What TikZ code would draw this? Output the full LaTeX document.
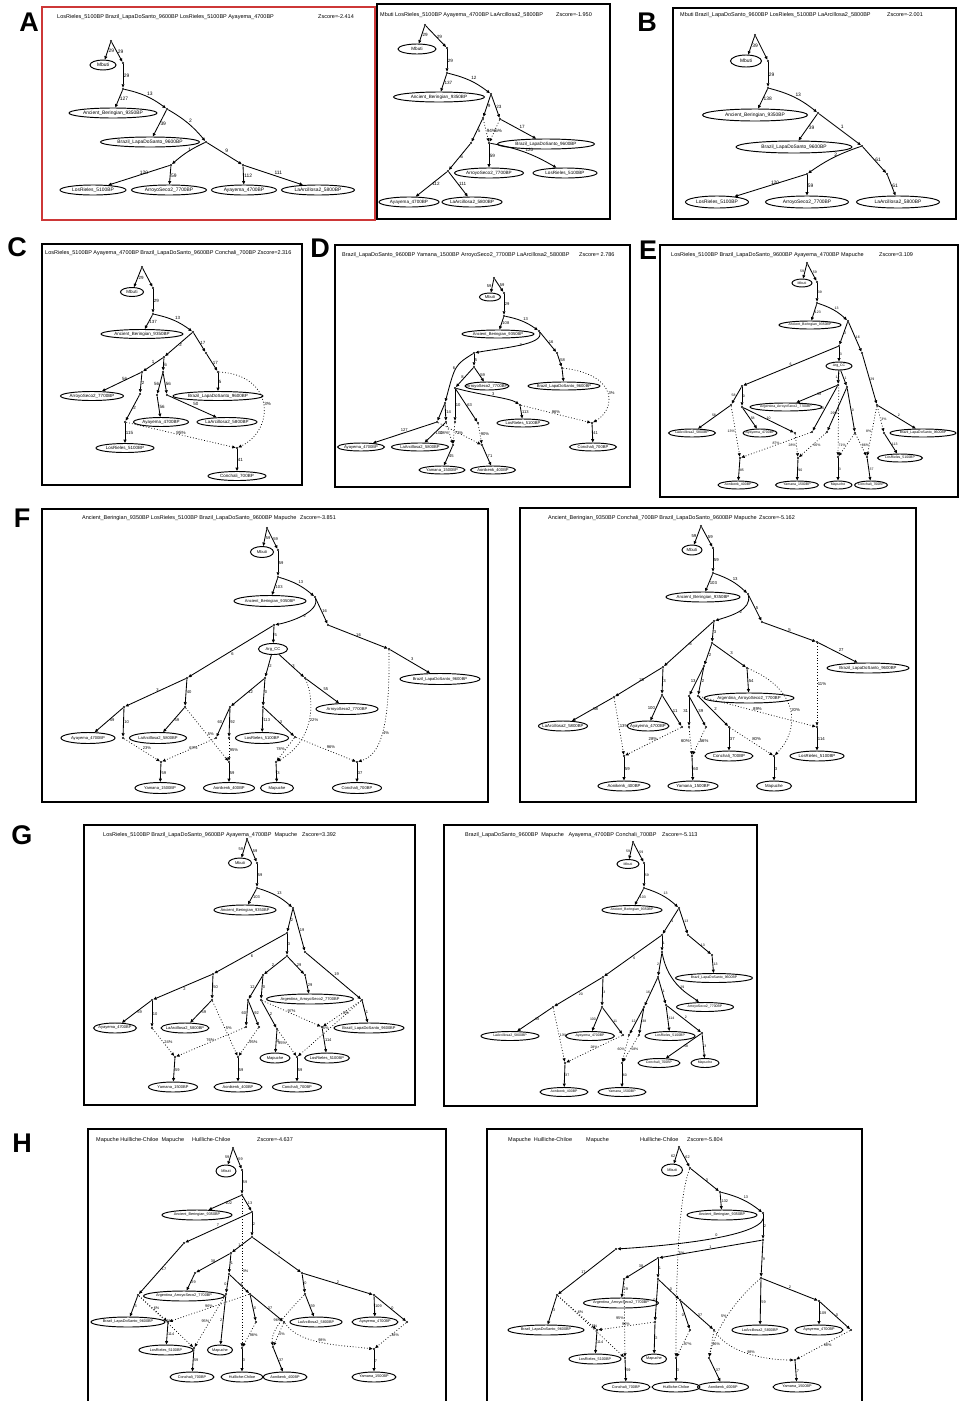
\documentclass[tikz,border=0pt]{standalone}
\usepackage{fontspec}
\setmainfont{Liberation Sans}
\usetikzlibrary{arrows.meta,shapes.geometric}
\definecolor{panelred}{RGB}{205,55,55}
\tikzset{
  pop/.style={ellipse,draw,line width=.95pt,inner xsep=-.6em,inner ysep=0pt},
  dot/.style={circle,fill,inner sep=0pt,minimum size=2.3pt},
  edge/.style={line width=.85pt,-{Triangle[length=3.4pt,width=2.9pt]}},
  mix/.style={edge,dotted,line width=.7pt},
  lab/.style={inner sep=.5pt},
  ttl/.style={anchor=west,inner sep=0pt,font=\fontsize{5.5}{5.5}\selectfont},
  frame/.style={line width=1.2pt},
  letter/.style={font=\fontsize{27}{27}\selectfont\bfseries},
  sz/.style 2 args={pop/.append style={minimum height=#2,font=\fontsize{#1}{#1}\selectfont},lab/.append style={font=\fontsize{#1}{#1}\selectfont}}
}
\begin{document}
\begin{tikzpicture}[x=1pt,y=-1pt]
\useasboundingbox (0,0) rectangle (960,1401);
\fill[white] (0,0) rectangle (960,1401);

\draw[frame,panelred] (42,7) rectangle (375,220);
\node[letter] (letA) at (29,22) {A};
\begin{scope}[sz={4.9}{10}]
\node[ttl] (tiA) at (57,17) {LosRieles\_5100BP Brazil\_LapaDoSanto\_9600BP LosRieles\_5100BP Ayayema\_4700BP};
\node[ttl] (zsA) at (318,17) {Zscore=-2.414};
\node[dot] (a0) at (111,41) {};
\node[pop,minimum width=26] (aMb) at (103,65) {Mbuti};
\node[dot] (a1) at (123,63) {};
\node[dot] (a2) at (123,89) {};
\node[pop,minimum width=88] (aAB) at (113,113) {Ancient\_Beringian\_9350BP};
\node[dot] (a3) at (167,109) {};
\node[pop,minimum width=99] (aBr) at (150,142) {Brazil\_LapaDoSanto\_9600BP};
\node[dot] (a4) at (206,142) {};
\node[dot] (a5) at (171,165) {};
\node[dot] (a6) at (243,165) {};
\node[pop,minimum width=66] (aLR) at (93,190) {LosRieles\_5100BP};
\node[pop,minimum width=75] (aAS) at (169,190) {ArroyoSeco2\_7700BP};
\node[pop,minimum width=65] (aAy) at (244,190) {Ayayema\_4700BP};
\node[pop,minimum width=73] (aLA) at (318,190) {LaArcillosa2\_5800BP};
\draw[edge] (a0) -- node[lab,right]{29} (aMb);
\draw[edge] (a0) -- node[lab,right]{29} (a1);
\draw[edge] (a1) -- node[lab,right]{29} (a2);
\draw[edge] (a2) -- node[lab,right]{127} (aAB);
\draw[edge] (a2) to[bend left=12] node[lab,above right]{13} (a3);
\draw[edge] (a3) -- node[lab,right]{39} (aBr);
\draw[edge] (a3) to[bend left=10] node[lab,above right]{2} (a4);
\draw[edge] (a4) to[bend right=8] node[lab,above right]{1} (a5);
\draw[edge] (a4) -- node[lab,above right]{9} (a6);
\draw[edge] (a5) -- node[lab,above right]{120} (aLR);
\draw[edge] (a5) -- node[lab,right]{59} (aAS);
\draw[edge] (a6) -- node[lab,right]{112} (aAy);
\draw[edge] (a6) -- node[lab,above right]{111} (aLA);
\end{scope}

\draw[frame] (377,4) rectangle (610,219);
\begin{scope}[sz={4.6}{10}]
\node[ttl] (tiA2) at (380,15) {Mbuti LosRieles\_5100BP Ayayema\_4700BP LaArcillosa2\_5800BP};
\node[ttl] (zsA2) at (556,15) {Zscore=-1.950};
\node[dot] (b0) at (425,25) {};
\node[pop,minimum width=38] (bMb) at (417,49) {Mbuti};
\node[dot] (b1) at (447,48) {};
\node[dot] (b2) at (447,73) {};
\node[pop,minimum width=91] (bAB) at (439,97) {Ancient\_Beringian\_9350BP};
\node[dot] (b3) at (491,94) {};
\node[dot] (b4) at (483,118) {};
\node[dot] (b7) at (500,119) {};
\node[dot] (b5) at (471,143) {};
\node[pop,minimum width=97] (bBr) at (546,144) {Brazil\_LapaDoSanto\_9600BP};
\node[dot] (b8) at (489,143) {};
\node[pop,minimum width=69] (bAS) at (489,173) {ArroyoSeco2\_7700BP};
\node[pop,minimum width=64] (bLR) at (565,173) {LosRieles\_5100BP};
\node[dot] (b6) at (448,171) {};
\node[pop,minimum width=60] (bAy) at (409,202) {Ayayema\_4700BP};
\node[pop,minimum width=60] (bLA) at (472,202) {LaArcillosa2\_5800BP};
\draw[edge] (b0) -- node[lab,right]{29} (bMb);
\draw[edge] (b0) -- node[lab,right]{29} (b1);
\draw[edge] (b1) -- node[lab,right]{29} (b2);
\draw[edge] (b2) -- node[lab,right]{137} (bAB);
\draw[edge] (b2) to[bend left=12] node[lab,above right]{12} (b3);
\draw[edge] (b3) -- node[lab,right]{9} (b4);
\draw[edge] (b3) -- node[lab,right]{23} (b7);
\draw[edge] (b4) -- node[lab,right]{5} (b5);
\draw[mix] (b4) -- node[lab,right]{94\%} (b8);
\draw[mix] (b7) -- node[lab,right]{6\%} (b8);
\draw[edge] (b7) -- node[lab,above right]{17} (bBr);
\draw[edge] (b8) -- node[lab,right]{59} (bAS);
\draw[edge] (b8) to[bend left=10] node[lab,above right]{120} (bLR);
\draw[edge] (b5) -- node[lab,right]{6} (b6);
\draw[edge] (b6) -- node[lab,right]{112} (bAy);
\draw[edge] (b6) -- node[lab,right]{111} (bLA);
\end{scope}

\draw[frame] (673,8) rectangle (956,219);
\node[letter] (letB) at (647,22) {B};
\begin{scope}[sz={4.9}{12}]
\node[ttl] (tiB) at (680,15) {Mbuti Brazil\_LapaDoSanto\_9600BP LosRieles\_5100BP LaArcillosa2\_5800BP};
\node[ttl] (zsB) at (887,15) {Zscore=-2.001};
\node[dot] (c0) at (755,35) {};
\node[pop,minimum width=31] (cMb) at (746,61) {Mbuti};
\node[dot] (c1) at (768,61) {};
\node[dot] (c2) at (768,88) {};
\node[pop,minimum width=105] (cAB) at (755,115) {Ancient\_Beringian\_9350BP};
\node[dot] (c3) at (818,113) {};
\node[pop,minimum width=116] (cBr) at (794,147) {Brazil\_LapaDoSanto\_9600BP};
\node[dot] (c4) at (862,146) {};
\node[dot] (c5) at (807,174) {};
\node[dot] (c6) at (887,174) {};
\node[pop,minimum width=63] (cLR) at (717,202) {LosRieles\_5100BP};
\node[pop,minimum width=83] (cAS) at (807,202) {ArroyoSeco2\_7700BP};
\node[pop,minimum width=83] (cLA) at (898,202) {LaArcillosa2\_5800BP};
\draw[edge] (c0) -- node[lab,right]{39} (cMb);
\draw[edge] (c0) -- (c1);
\draw[edge] (c1) -- node[lab,right]{29} (c2);
\draw[edge] (c2) -- node[lab,right]{138} (cAB);
\draw[edge] (c2) to[bend left=12] node[lab,above right]{13} (c3);
\draw[edge] (c3) -- node[lab,right]{39} (cBr);
\draw[edge] (c3) -- node[lab,above right]{1} (c4);
\draw[edge] (c4) to[bend right=8] node[lab,above right]{2} (c5);
\draw[edge] (c4) -- node[lab,right]{61} (c6);
\draw[edge] (c5) -- node[lab,above right]{120} (cLR);
\draw[edge] (c5) -- node[lab,right]{59} (cAS);
\draw[edge] (c6) -- node[lab,right]{61} (cLA);
\end{scope}

\draw[frame] (42,244) rectangle (302,485);
\node[letter] (letC) at (17,247) {C};
\begin{scope}[sz={4.5}{9}]
\node[ttl] (tiC) at (45,253) {LosRieles\_5100BP Ayayema\_4700BP Brazil\_LapaDoSanto\_9600BP Conchali\_700BP Zscore=2.316};
\node[dot] (d0) at (142,267) {};
\node[pop,minimum width=23] (dMb) at (132,292) {Mbuti};
\node[dot] (d1) at (153,288) {};
\node[dot] (d2) at (153,314) {};
\node[pop,minimum width=82] (dAB) at (142,334) {Ancient\_Beringian\_9350BP};
\node[dot] (d3) at (193,332) {};
\node[dot] (d4) at (164,357) {};
\node[dot] (d5) at (142,372) {};
\node[dot] (d6) at (163,372) {};
\node[dot] (d7) at (206,353) {};
\node[dot] (d8) at (218,372) {};
\node[pop,minimum width=63] (dAS) at (92,396) {ArroyoSeco2\_7700BP};
\node[dot] (d9) at (140,394) {};
\node[dot] (d10) at (125,422) {};
\node[pop,minimum width=58] (dLR) at (125,448) {LosRieles\_5100BP};
\node[dot] (d11) at (157,395) {};
\node[dot] (d12) at (167,395) {};
\node[pop,minimum width=55] (dAy) at (161,422) {Ayayema\_4700BP};
\node[pop,minimum width=60] (dLA) at (227,422) {LaArcillosa2\_5800BP};
\node[pop,minimum width=90] (dBr) at (218,396) {Brazil\_LapaDoSanto\_9600BP};
\node[dot] (d13) at (237,448) {};
\node[pop,minimum width=58] (dCo) at (237,476) {Conchali\_700BP};
\draw[edge] (d0) -- node[lab,right]{29} (dMb);
\draw[edge] (d0) -- (d1);
\draw[edge] (d1) -- node[lab,right]{29} (d2);
\draw[edge] (d2) -- node[lab,right]{137} (dAB);
\draw[edge] (d2) to[bend left=12] node[lab,above right]{13} (d3);
\draw[edge] (d3) -- node[lab,right]{2} (d4);
\draw[edge] (d3) -- node[lab,right]{17} (d7);
\draw[edge] (d7) -- node[lab,right]{17} (d8);
\draw[edge] (d4) -- node[lab,above]{1} (d5);
\draw[edge] (d4) -- node[lab,right]{6} (d6);
\draw[edge] (d5) -- node[lab,above right]{56} (dAS);
\draw[edge] (d5) -- node[lab,right]{2} (d9);
\draw[edge] (d9) -- node[lab,right]{2} (d10);
\draw[edge] (d10) -- node[lab,right]{115} (dLR);
\draw[edge] (d6) -- node[lab,left]{56} (d11);
\draw[edge] (d6) -- node[lab,right]{56} (d12);
\draw[edge] (d11) -- node[lab,right]{56} (dAy);
\draw[edge] (d12) -- node[lab,above right]{50} (dLA);
\draw[edge] (d8) -- node[lab,right]{5} (dBr);
\draw[mix] (d8) .. controls (275,375) and (275,430) .. node[lab,right]{3\%} (d13);
\draw[mix] (d10) -- node[lab,above]{95\%} (d13);
\draw[edge] (d13) -- node[lab,right]{41} (dCo);
\end{scope}

\draw[frame] (335,245) rectangle (630,487);
\node[letter] (letD) at (320,248) {D};
\begin{scope}[sz={4.1}{8}]
\node[ttl] (tiD) at (342,255) {Brazil\_LapaDoSanto\_9600BP Yamana\_1500BP ArroyoSeco2\_7700BP LaArcillosa2\_5800BP};
\node[ttl] (zsD) at (579,255) {Zscore= 2.786};
\node[dot] (e0) at (494,278) {};
\node[pop,minimum width=21] (eMb) at (490,297) {Mbuti};
\node[dot] (e1) at (504,293) {};
\node[dot] (e2) at (504,316) {};
\node[pop,minimum width=72] (eAB) at (498,334) {Ancient\_Beringian\_9350BP};
\node[dot] (e3) at (539,331) {};
\node[dot] (e4) at (474,353) {};
\node[dot] (e5) at (474,367) {};
\node[pop,minimum width=44] (eAS) at (487,386) {ArroyoSeco2\_7700BP};
\node[dot] (e14) at (557,353) {};
\node[dot] (e15) at (562,368) {};
\node[pop,minimum width=72] (eBr) at (564,386) {Brazil\_LapaDoSanto\_9600BP};
\node[dot] (e6) at (455,388) {};
\node[dot] (e7) at (445,403) {};
\node[dot] (e8) at (437,422) {};
\node[dot] (e9) at (446,422) {};
\node[dot] (e10) at (455,422) {};
\node[dot] (e11) at (478,423) {};
\node[dot] (e12) at (520,405) {};
\node[pop,minimum width=52] (eLR) at (523,423) {LosRieles\_5100BP};
\node[dot] (e13) at (592,423) {};
\node[pop,minimum width=47] (eCo) at (593,447) {Conchali\_700BP};
\node[pop,minimum width=47] (eAy) at (361,447) {Ayayema\_4700BP};
\node[pop,minimum width=57] (eLA) at (420,447) {LaArcillosa2\_5800BP};
\node[dot] (e16) at (453,445) {};
\node[pop,minimum width=46] (eYa) at (442,470) {Yamana\_1500BP};
\node[dot] (e17) at (482,445) {};
\node[pop,minimum width=45] (eAo) at (493,470) {Aonikenk\_400BP};
\draw[edge] (e0) -- node[lab,left]{59} (eMb);
\draw[edge] (e0) -- node[lab,right]{59} (e1);
\draw[edge] (e1) -- node[lab,right]{29} (e2);
\draw[edge] (e2) -- node[lab,right]{108} (eAB);
\draw[edge] (e2) to[bend left=12] node[lab,above right]{13} (e3);
\draw[edge] (e3) .. controls (545,345) and (500,348) .. node[lab,right]{2} (e4);
\draw[edge] (e3) -- node[lab,right]{16} (e14);
\draw[edge] (e14) -- node[lab,right]{58} (e15);
\draw[edge] (e15) -- (eBr);
\draw[edge] (e4) -- node[lab,right]{5} (e5);
\draw[edge] (e5) -- node[lab,right]{59} (eAS);
\draw[edge] (e5) -- node[lab,left]{8} (e6);
\draw[edge] (e4) .. controls (455,365) .. node[lab,left]{6} (e7);
\draw[edge] (e7) -- (e8);
\draw[edge] (e7) -- node[lab,right]{14} (e9);
\draw[edge] (e8) -- node[lab,above]{127} (eAy);
\draw[edge] (e9) -- node[lab,right]{100} (eLA);
\draw[edge] (e6) -- node[lab,right]{10} (e10);
\draw[edge] (e6) -- node[lab,right]{63} (e11);
\draw[edge] (e6) .. controls (480,395) and (510,398) .. node[lab,above]{3} (e12);
\draw[edge] (e12) -- node[lab,right]{113} (eLR);
\draw[mix] (e12) -- node[lab,above]{96\%} (e13);
\draw[mix] (e15) .. controls (620,375) and (615,410) .. node[lab,right]{3\%} (e13);
\draw[edge] (e13) -- node[lab,right]{41} (eCo);
\draw[mix] (e8) -- (e17);
\draw[mix] (e9) -- node[lab,left]{28\%} (e16);
\draw[mix] (e10) -- node[lab,right]{72\%} (e16);
\draw[mix] (e11) -- node[lab,right]{90\%} (e17);
\draw[edge] (e16) -- node[lab,right]{45} (eYa);
\draw[edge] (e17) -- node[lab,right]{71} (eAo);
\end{scope}

\draw[frame] (660,245) rectangle (958,497);
\node[letter] (letE) at (648,250) {E};
\begin{scope}[sz={3.5}{8}]
\node[ttl] (tiE) at (671,255) {LosRieles\_5100BP Brazil\_LapaDoSanto\_9600BP Ayayema\_4700BP Mapuche};
\node[ttl] (zsE) at (879,255) {Zscore=3.109};
\node[dot] (k0) at (807,263) {};
\node[pop,minimum width=20] (kMb) at (802,283) {Mbuti};
\node[dot] (k1) at (817,282) {};
\node[dot] (k2) at (817,303) {};
\node[pop,minimum width=62] (kAB) at (810,325) {Ancient\_Beringian\_9350BP};
\node[dot] (k3) at (848,321) {};
\node[dot] (k4) at (839,346) {};
\node[dot] (k5) at (862,353) {};
\node[pop,minimum width=26] (kCC) at (839,366) {Arg\_CC};
\node[dot] (k6) at (742,386) {};
\node[dot] (k7) at (877,405) {};
\node[pop,minimum width=66] (kBr) at (923,433) {Brazil\_LapaDoSanto\_9600BP};
\node[dot] (k9) at (838,385) {};
\node[dot] (k10) at (847,387) {};
\node[pop,minimum width=72] (kAS) at (786,407) {Argentina\_ArroyoSeco2\_7700BP};
\node[dot] (k11) at (731,405) {};
\node[dot] (k12) at (742,407) {};
\node[pop,minimum width=47] (kLA) at (692,433) {LaArcillosa2\_5800BP};
\node[pop,minimum width=34] (kAy) at (760,433) {Ayayema\_4700BP};
\node[dot] (k13) at (795,433) {};
\node[dot] (k14) at (740,458) {};
\node[pop,minimum width=40] (kAo) at (738,485) {Aonikenk\_400BP};
\node[dot] (k15) at (798,458) {};
\node[pop,minimum width=43] (kYa) at (797,485) {Yamana\_1500BP};
\node[dot] (k16) at (812,432) {};
\node[dot] (k17) at (827,432) {};
\node[dot] (k18) at (838,457) {};
\node[pop,minimum width=28] (kMa) at (838,485) {Mapuche};
\node[dot] (k19) at (855,433) {};
\node[dot] (k20) at (867,457) {};
\node[pop,minimum width=33] (kCo) at (871,485) {Conchali\_700BP};
\node[dot] (k21) at (884,433) {};
\node[pop,minimum width=45] (kLR) at (900,458) {LosRieles\_5100BP};
\draw[edge] (k0) -- node[lab,left]{59} (kMb);
\draw[edge] (k0) -- node[lab,right]{59} (k1);
\draw[edge] (k1) -- node[lab,right]{39} (k2);
\draw[edge] (k2) -- node[lab,right]{123} (kAB);
\draw[edge] (k2) to[bend left=12] node[lab,above right]{13} (k3);
\draw[edge] (k3) -- node[lab,right]{2} (k4);
\draw[edge] (k3) -- node[lab,right]{16} (k5);
\draw[edge] (k4) -- node[lab,right]{3} (kCC);
\draw[edge] (k4) -- node[lab,above]{6} (k6);
\draw[edge] (k5) -- node[lab,right]{29} (k7);
\draw[edge] (k7) -- node[lab,above right]{2} (kBr);
\draw[edge] (kCC) -- node[lab,left]{1} (k9);
\draw[edge] (kCC) -- node[lab,right]{1} (k10);
\draw[edge] (k9) -- node[lab,right]{58} (kAS);
\draw[edge] (k9) -- node[lab,left]{10} (k16);
\draw[edge] (k10) -- node[lab,right]{1} (k17);
\draw[edge] (k10) -- node[lab,right]{0} (k19);
\draw[edge] (k6) -- node[lab,left]{58} (k11);
\draw[edge] (k6) -- node[lab,right]{0} (k12);
\draw[edge] (k11) -- node[lab,above]{58} (kLA);
\draw[edge] (k12) -- node[lab,right]{58} (kAy);
\draw[edge] (k12) -- node[lab,above]{10} (k13);
\draw[mix] (k11) -- node[lab,left]{13\%} (k14);
\draw[mix] (k16) -- node[lab,above]{87\%} (k14);
\draw[mix] (k13) -- node[lab,left]{28\%} (k15);
\draw[mix] (k17) -- node[lab,right]{56\%} (k15);
\draw[mix] (kCC) -- node[lab,left]{29\%} (k18);
\draw[mix] (k19) -- node[lab,left]{71\%} (k18);
\draw[mix] (k19) -- node[lab,right]{86\%} (k20);
\draw[mix] (k7) -- node[lab,left]{8\%} (k20);
\draw[mix] (k7) -- node[lab,right]{3\%} (k21);
\draw[edge] (k14) -- node[lab,right]{85} (kAo);
\draw[edge] (k15) -- node[lab,right]{90} (kYa);
\draw[edge] (k18) -- node[lab,right]{3} (kMa);
\draw[edge] (k20) -- node[lab,right]{37} (kCo);
\draw[edge] (k21) -- node[lab,right]{113} (kLR);
\end{scope}

\draw[frame] (42,509) rectangle (488,802);
\node[letter] (letF) at (22,518) {F};
\begin{scope}[sz={4.1}{11}]
\node[ttl] (tiF) at (82,518) {Ancient\_Beringian\_9350BP LosRieles\_5100BP Brazil\_LapaDoSanto\_9600BP Mapuche};
\node[ttl] (zsF) at (300,518) {Zscore=-3.851};
\node[dot] (f0) at (267,528) {};
\node[pop,minimum width=23] (fMb) at (262,552) {Mbuti};
\node[dot] (f1) at (278,550) {};
\node[dot] (f2) at (278,577) {};
\node[pop,minimum width=72] (fAB) at (270,601) {Ancient\_Beringian\_9350BP};
\node[dot] (f3) at (315,597) {};
\node[dot] (f4) at (274,625) {};
\node[dot] (f5) at (328,625) {};
\node[dot] (f6) at (389,649) {};
\node[pop,minimum width=80] (fBr) at (440,679) {Brazil\_LapaDoSanto\_9600BP};
\node[pop,minimum width=29] (fCC) at (273,649) {Arg\_CC};
\node[dot] (f7) at (187,678) {};
\node[dot] (f8) at (124,707) {};
\node[dot] (f9) at (185,707) {};
\node[pop,minimum width=54] (fAy) at (88,738) {Ayayema\_4700BP};
\node[dot] (f10) at (123,738) {};
\node[pop,minimum width=57] (fLA) at (158,738) {LaArcillosa2\_5800BP};
\node[dot] (f11) at (265,678) {};
\node[dot] (f12) at (305,678) {};
\node[pop,minimum width=62] (fAS) at (347,709) {ArroyoSeco2\_7700BP};
\node[dot] (f13) at (230,707) {};
\node[dot] (f14) at (263,707) {};
\node[pop,minimum width=53] (fLR) at (262,738) {LosRieles\_5100BP};
\node[dot] (f15) at (295,737) {};
\node[dot] (f16) at (216,738) {};
\node[dot] (f17) at (229,738) {};
\node[dot] (f18) at (161,762) {};
\node[pop,minimum width=50] (fYa) at (160,788) {Yamana\_1500BP};
\node[dot] (f19) at (229,762) {};
\node[pop,minimum width=51] (fAo) at (229,788) {Aonikenk\_400BP};
\node[dot] (f20) at (276,762) {};
\node[pop,minimum width=33] (fMa) at (277,788) {Mapuche};
\node[dot] (f21) at (357,762) {};
\node[pop,minimum width=49] (fCo) at (357,788) {Conchali\_700BP};
\draw[edge] (f0) -- node[lab,right]{59} (fMb);
\draw[edge] (f0) -- node[lab,right]{59} (f1);
\draw[edge] (f1) -- node[lab,right]{59} (f2);
\draw[edge] (f2) -- node[lab,right]{103} (fAB);
\draw[edge] (f2) to[bend left=12] node[lab,above right]{13} (f3);
\draw[edge] (f3) .. controls (320,612) and (290,622) .. node[lab,right]{2} (f4);
\draw[edge] (f3) -- node[lab,right]{16} (f5);
\draw[edge] (f5) -- node[lab,above]{16} (f6);
\draw[edge] (f6) -- node[lab,above right]{3} (fBr);
\draw[edge] (f4) -- node[lab,right]{5} (fCC);
\draw[edge] (f4) -- node[lab,below right]{6} (f7);
\draw[edge] (f7) -- node[lab,above right]{3} (f8);
\draw[edge] (f7) -- node[lab,right]{40} (f9);
\draw[edge] (f8) -- node[lab,right]{59} (fAy);
\draw[edge] (f8) -- node[lab,right]{10} (f10);
\draw[edge] (f9) -- node[lab,right]{59} (fLA);
\draw[edge] (fCC) -- node[lab,right]{2} (f11);
\draw[edge] (fCC) -- node[lab,right]{3} (f12);
\draw[edge] (f12) -- node[lab,above right]{55} (fAS);
\draw[edge] (f11) -- node[lab,right]{42} (f13);
\draw[edge] (f11) -- node[lab,right]{0} (f14);
\draw[edge] (f14) -- node[lab,right]{113} (fLR);
\draw[edge] (f14) -- node[lab,right]{3} (f15);
\draw[edge] (f13) -- node[lab,left]{60} (f16);
\draw[edge] (f13) -- node[lab,right]{92} (f17);
\draw[mix] (f10) -- node[lab,above right]{23\%} (f18);
\draw[mix] (f16) -- node[lab,above right]{67\%} (f18);
\draw[mix] (f9) -- node[lab,right]{5\%} (f19);
\draw[mix] (f17) -- node[lab,right]{95\%} (f19);
\draw[mix] (f15) -- node[lab,left]{78\%} (f20);
\draw[mix] (f12) .. controls (315,700) and (315,740) .. node[lab,right]{22\%} (f20);
\draw[mix] (f15) -- node[lab,above right]{96\%} (f21);
\draw[mix] (f6) .. controls (390,730) and (380,755) .. node[lab,right]{4\%} (f21);
\draw[edge] (f18) -- node[lab,right]{59} (fYa);
\draw[edge] (f19) -- node[lab,right]{59} (fAo);
\draw[edge] (f20) -- node[lab,right]{3} (fMa);
\draw[edge] (f21) -- node[lab,right]{37} (fCo);
\end{scope}

\draw[frame] (520,508) rectangle (916,802);
\begin{scope}[sz={4.3}{10}]
\node[ttl] (tiF2) at (548,518) {Ancient\_Beringian\_9350BP Conchali\_700BP Brazil\_LapaDoSanto\_9600BP Mapuche};
\node[ttl] (zsF2) at (759,518) {Zscore=-5.162};
\node[dot] (m0) at (701,526) {};
\node[pop,minimum width=20] (mMb) at (692,550) {Mbuti};
\node[dot] (m1) at (713,548) {};
\node[dot] (m2) at (713,573) {};
\node[pop,minimum width=74] (mAB) at (703,597) {Ancient\_Beringian\_9350BP};
\node[dot] (m3) at (748,594) {};
\node[dot] (m4) at (714,621) {};
\node[dot] (m5) at (762,622) {};
\node[dot] (m6) at (817,642) {};
\node[pop,minimum width=82] (mBr) at (868,668) {Brazil\_LapaDoSanto\_9600BP};
\node[dot] (m7) at (712,643) {};
\node[dot] (m8) at (663,667) {};
\node[dot] (m9) at (614,697) {};
\node[dot] (m10) at (662,695) {};
\node[pop,minimum width=49] (mLA) at (563,726) {LaArcillosa2\_5800BP};
\node[pop,minimum width=42] (mAy) at (648,726) {Ayayema\_4700BP};
\node[dot] (m11) at (682,727) {};
\node[dot] (m12) at (704,666) {};
\node[dot] (m13) at (747,668) {};
\node[pop,minimum width=90] (mAS) at (749,698) {Argentina\_ArroyoSeco2\_7700BP};
\node[dot] (m14) at (689,696) {};
\node[dot] (m15) at (698,696) {};
\node[dot] (m16) at (689,727) {};
\node[dot] (m17) at (706,727) {};
\node[dot] (m18) at (729,727) {};
\node[pop,minimum width=48] (mCo) at (729,756) {Conchali\_700BP};
\node[dot] (m19) at (624,756) {};
\node[pop,minimum width=52] (mAo) at (624,786) {Aonikenk\_400BP};
\node[dot] (m20) at (692,756) {};
\node[pop,minimum width=50] (mYa) at (693,786) {Yamana\_1500BP};
\node[dot] (m21) at (774,756) {};
\node[pop,minimum width=35] (mMa) at (774,786) {Mapuche};
\node[dot] (m22) at (817,727) {};
\node[pop,minimum width=54] (mLR) at (817,756) {LosRieles\_5100BP};
\draw[edge] (m0) -- node[lab,left]{59} (mMb);
\draw[edge] (m0) -- node[lab,right]{59} (m1);
\draw[edge] (m1) -- node[lab,right]{59} (m2);
\draw[edge] (m2) -- node[lab,right]{103} (mAB);
\draw[edge] (m2) to[bend left=12] node[lab,above right]{13} (m3);
\draw[edge] (m3) .. controls (752,610) and (730,616) .. node[lab,right]{2} (m4);
\draw[edge] (m3) -- node[lab,right]{5} (m5);
\draw[edge] (m5) -- node[lab,above]{5} (m6);
\draw[edge] (m6) -- node[lab,above right]{27} (mBr);
\draw[edge] (m4) -- node[lab,right]{3} (m7);
\draw[edge] (m4) -- node[lab,right]{6} (m8);
\draw[edge] (m8) -- node[lab,above right]{20} (m9);
\draw[edge] (m8) -- node[lab,right]{3} (m10);
\draw[edge] (m9) -- node[lab,right]{58} (mLA);
\draw[edge] (m10) -- node[lab,left]{100} (mAy);
\draw[edge] (m10) -- node[lab,right]{11} (m11);
\draw[edge] (m7) -- node[lab,right]{2} (m12);
\draw[edge] (m7) -- node[lab,above right]{3} (m13);
\draw[edge] (m13) -- node[lab,right]{54} (mAS);
\draw[edge] (m12) -- node[lab,left]{13} (m14);
\draw[edge] (m12) -- node[lab,right]{2} (m15);
\draw[edge] (m14) -- node[lab,left]{31} (m16);
\draw[edge] (m14) -- node[lab,right]{39} (m17);
\draw[edge] (m15) -- node[lab,above right]{2} (m18);
\draw[edge] (m18) -- node[lab,right]{37} (mCo);
\draw[mix] (m9) -- node[lab,right]{13\%} (m19);
\draw[mix] (m11) -- node[lab,above]{28\%} (m19);
\draw[mix] (m16) -- node[lab,left]{60\%} (m20);
\draw[mix] (m17) -- node[lab,right]{56\%} (m20);
\draw[mix] (m18) -- node[lab,above right]{80\%} (m21);
\draw[mix] (m13) .. controls (800,690) and (800,730) .. node[lab,right]{20\%} (m21);
\draw[mix] (m6) -- node[lab,right]{11\%} (m22);
\draw[mix] (m15) -- node[lab,above]{89\%} (m22);
\draw[edge] (m19) -- node[lab,right]{59} (mAo);
\draw[edge] (m20) -- node[lab,right]{60} (mYa);
\draw[edge] (m21) -- node[lab,right]{3} (mMa);
\draw[edge] (m22) -- node[lab,right]{114} (mLR);
\end{scope}

\draw[frame] (84,825) rectangle (415,1105);
\node[letter] (letG) at (22,835) {G};
\begin{scope}[sz={4.0}{10}]
\node[ttl] (tiG) at (103,835) {LosRieles\_5100BP Brazil\_LapaDoSanto\_9600BP Ayayema\_4700BP\ \ Mapuche};
\node[ttl] (zsG) at (302,835) {Zscore=3.392};
\node[dot] (g0) at (247,839) {};
\node[pop,minimum width=23] (gMb) at (240,863) {Mbuti};
\node[dot] (g1) at (257,863) {};
\node[dot] (g2) at (257,888) {};
\node[pop,minimum width=62] (gAB) at (245,910) {Ancient\_Beringian\_9350BP};
\node[dot] (g3) at (293,908) {};
\node[dot] (g4) at (287,933) {};
\node[dot] (g5) at (305,952) {};
\node[dot] (g6) at (362,1000) {};
\node[pop,minimum width=70] (gBr) at (369,1028) {Brazil\_LapaDoSanto\_9600BP};
\node[dot] (g7) at (287,956) {};
\node[dot] (g8) at (213,974) {};
\node[dot] (g9) at (152,1000) {};
\node[dot] (g10) at (212,1000) {};
\node[pop,minimum width=43] (gAy) at (115,1028) {Ayayema\_4700BP};
\node[dot] (g11) at (152,1028) {};
\node[pop,minimum width=48] (gLA) at (185,1028) {LaArcillosa2\_5800BP};
\node[dot] (g12) at (263,975) {};
\node[dot] (g13) at (305,975) {};
\node[pop,minimum width=87] (gAS) at (310,999) {Argentina\_ArroyoSeco2\_7700BP};
\node[dot] (g14) at (248,1000) {};
\node[dot] (g15) at (261,1000) {};
\node[dot] (g16) at (246,1027) {};
\node[dot] (g17) at (259,1027) {};
\node[dot] (g18) at (277,1029) {};
\node[pop,minimum width=30] (gMa) at (275,1058) {Mapuche};
\node[dot] (g19) at (322,1027) {};
\node[pop,minimum width=45] (gLR) at (327,1058) {LosRieles\_5100BP};
\node[dot] (g20) at (297,1057) {};
\node[pop,minimum width=49] (gCo) at (297,1087) {Conchali\_700BP};
\node[dot] (g21) at (175,1057) {};
\node[pop,minimum width=49] (gYa) at (173,1087) {Yamana\_1500BP};
\node[dot] (g22) at (238,1057) {};
\node[pop,minimum width=48] (gAo) at (238,1087) {Aonikenk\_400BP};
\draw[edge] (g0) -- node[lab,left]{59} (gMb);
\draw[edge] (g0) -- node[lab,right]{59} (g1);
\draw[edge] (g1) -- node[lab,right]{59} (g2);
\draw[edge] (g2) -- node[lab,right]{103} (gAB);
\draw[edge] (g2) to[bend left=12] node[lab,above right]{13} (g3);
\draw[edge] (g3) -- node[lab,right]{2} (g4);
\draw[edge] (g3) -- node[lab,right]{19} (g5);
\draw[edge] (g5) -- node[lab,above right]{19} (g6);
\draw[edge] (g6) -- node[lab,right]{1} (gBr);
\draw[edge] (g4) -- node[lab,right]{3} (g7);
\draw[edge] (g4) -- node[lab,below right]{6} (g8);
\draw[edge] (g8) -- node[lab,below right]{2} (g9);
\draw[edge] (g8) -- node[lab,right]{50} (g10);
\draw[edge] (g9) -- node[lab,right]{59} (gAy);
\draw[edge] (g9) -- node[lab,right]{10} (g11);
\draw[edge] (g10) -- node[lab,right]{59} (gLA);
\draw[edge] (g7) -- node[lab,left]{2} (g12);
\draw[edge] (g7) -- node[lab,right]{29} (g13);
\draw[edge] (g13) -- node[lab,right]{29} (gAS);
\draw[edge] (g12) -- node[lab,left]{12} (g14);
\draw[edge] (g12) -- node[lab,right]{0} (g15);
\draw[edge] (g14) -- node[lab,left]{60} (g16);
\draw[edge] (g14) -- node[lab,right]{92} (g17);
\draw[edge] (g15) -- node[lab,right]{2} (g18);
\draw[edge] (g18) -- node[lab,right]{0} (gMa);
\draw[mix] (g15) -- node[lab,above]{97\%} (g19);
\draw[mix] (g6) -- node[lab,right]{3\%} (g19);
\draw[mix] (g18) -- node[lab,left]{95\%} (g20);
\draw[mix] (g6) -- node[lab,left]{5\%} (g20);
\draw[edge] (g19) -- node[lab,right]{114} (gLR);
\draw[edge] (g20) -- node[lab,right]{59} (gCo);
\draw[mix] (g11) -- node[lab,right]{24\%} (g21);
\draw[mix] (g16) -- node[lab,above]{76\%} (g21);
\draw[mix] (g10) -- node[lab,right]{5\%} (g22);
\draw[mix] (g17) -- node[lab,right]{95\%} (g22);
\draw[edge] (g21) -- node[lab,right]{59} (gYa);
\draw[edge] (g22) -- node[lab,right]{59} (gAo);
\end{scope}

\draw[frame] (444,825) rectangle (757,1106);
\begin{scope}[sz={3.5}{9}]
\node[ttl] (tiG2) at (465,835) {Brazil\_LapaDoSanto\_9600BP\ \ Mapuche\ \ \ Ayayema\_4700BP Conchali\_700BP};
\node[ttl] (zsG2) at (662,835) {Zscore=-5.113};
\node[dot] (q0) at (633,842) {};
\node[pop,minimum width=22] (qMb) at (628,864) {Mbuti};
\node[dot] (q1) at (644,863) {};
\node[dot] (q2) at (644,888) {};
\node[pop,minimum width=60] (qAB) at (632,910) {Ancient\_Beringian\_9350BP};
\node[dot] (q3) at (679,908) {};
\node[dot] (q4) at (662,935) {};
\node[dot] (q5) at (688,935) {};
\node[dot] (q6) at (712,955) {};
\node[pop,minimum width=77] (qBr) at (714,978) {Brazil\_LapaDoSanto\_9600BP};
\node[dot] (q7) at (662,952) {};
\node[dot] (q8) at (658,977) {};
\node[pop,minimum width=57] (qAS) at (705,1007) {ArroyoSeco2\_7700BP};
\node[dot] (q9) at (603,977) {};
\node[dot] (q10) at (553,1007) {};
\node[dot] (q11) at (602,1007) {};
\node[pop,minimum width=58] (qLA) at (510,1036) {LaArcillosa2\_5800BP};
\node[pop,minimum width=49] (qAy) at (590,1036) {Ayayema\_4700BP};
\node[dot] (q12) at (623,1035) {};
\node[dot] (q13) at (644,1007) {};
\node[dot] (q14) at (666,1005) {};
\node[dot] (q15) at (629,1035) {};
\node[dot] (q16) at (639,1035) {};
\node[pop,minimum width=50] (qLR) at (670,1036) {LosRieles\_5100BP};
\node[dot] (q17) at (702,1033) {};
\node[pop,minimum width=42] (qCo) at (659,1063) {Conchali\_700BP};
\node[pop,minimum width=28] (qMa) at (705,1063) {Mapuche};
\node[dot] (q18) at (565,1063) {};
\node[pop,minimum width=48] (qAo) at (564,1092) {Aonikenk\_400BP};
\node[dot] (q19) at (622,1063) {};
\node[pop,minimum width=48] (qYa) at (622,1092) {Yamana\_1500BP};
\draw[edge] (q0) -- node[lab,left]{59} (qMb);
\draw[edge] (q0) -- node[lab,right]{59} (q1);
\draw[edge] (q1) -- node[lab,right]{59} (q2);
\draw[edge] (q2) -- node[lab,right]{103} (qAB);
\draw[edge] (q2) to[bend left=12] node[lab,above right]{13} (q3);
\draw[edge] (q3) -- node[lab,right]{1} (q4);
\draw[edge] (q3) -- node[lab,right]{13} (q5);
\draw[edge] (q5) -- node[lab,right]{13} (q6);
\draw[edge] (q6) -- node[lab,right]{13} (qBr);
\draw[edge] (q4) -- node[lab,right]{1} (q7);
\draw[edge] (q4) -- node[lab,below right]{6} (q9);
\draw[edge] (q7) -- node[lab,left]{2} (q8);
\draw[edge] (q7) .. controls (668,985) and (690,995) .. node[lab,right]{29} (qAS);
\draw[edge] (q9) -- node[lab,below right]{20} (q10);
\draw[edge] (q9) -- node[lab,right]{3} (q11);
\draw[edge] (q10) -- node[lab,right]{58} (qLA);
\draw[edge] (q11) -- node[lab,left]{100} (qAy);
\draw[edge] (q11) -- node[lab,right]{11} (q12);
\draw[edge] (q8) -- node[lab,left]{16} (q13);
\draw[edge] (q8) -- node[lab,right]{1} (q14);
\draw[edge] (q13) -- node[lab,left]{12} (q15);
\draw[edge] (q13) -- node[lab,right]{38} (q16);
\draw[edge] (q14) -- node[lab,right]{114} (qLR);
\draw[edge] (q14) -- node[lab,above right]{2} (q17);
\draw[edge] (q17) -- node[lab,right]{58} (qCo);
\draw[edge] (q17) -- node[lab,right]{3} (qMa);
\draw[mix] (q10) -- node[lab,right]{13\%} (q18);
\draw[mix] (q12) -- node[lab,above]{28\%} (q18);
\draw[mix] (q15) -- node[lab,left]{60\%} (q19);
\draw[mix] (q16) -- node[lab,right]{58\%} (q19);
\draw[edge] (q18) -- node[lab,right]{37} (qAo);
\draw[edge] (q19) -- node[lab,right]{60} (qYa);
\end{scope}

\draw[frame] (88,1401) -- (88,1129) -- (446,1129) -- (446,1401);
\node[letter] (letH) at (22,1143) {H};
\begin{scope}[sz={3.8}{10}]
\node[ttl] (tiH) at (96,1140) {Mapuche Huilliche-Chiloe\ \ Mapuche};
\node[ttl] (tiH2) at (192,1140) {Huilliche-Chiloe};
\node[ttl] (zsH) at (257,1140) {Zscore=-4.637};
\node[dot] (r0) at (233,1148) {};
\node[pop,minimum width=20,minimum height=12] (rMb) at (226,1171) {Mbuti};
\node[dot] (r1) at (242,1170) {};
\node[dot] (r2) at (242,1195) {};
\node[pop,minimum width=70] (rAB) at (197,1215) {Ancient\_Beringian\_9350BP};
\node[dot] (r3) at (252,1212) {};
\node[dot] (r4) at (252,1237) {};
\node[dot] (r5) at (184,1243) {};
\node[dot] (r6) at (138,1295) {};
\node[pop,minimum width=74] (rBr) at (128,1322) {Brazil\_LapaDoSanto\_9600BP};
\node[dot] (r7) at (231,1253) {};
\node[dot] (r8) at (302,1273) {};
\node[dot] (r10) at (195,1273) {};
\node[dot] (r11) at (229,1274) {};
\node[pop,minimum width=81] (rAS) at (184,1296) {Argentina\_ArroyoSeco2\_7700BP};
\node[dot] (r12) at (250,1294) {};
\node[dot] (r13) at (226,1294) {};
\node[pop,minimum width=25] (rMa) at (220,1350) {Mapuche};
\node[dot] (r14) at (256,1322) {};
\node[dot] (r15) at (284,1322) {};
\node[dot] (r16) at (305,1294) {};
\node[dot] (r17) at (374,1295) {};
\node[pop,minimum width=52] (rLA) at (316,1322) {LaArcillosa2\_5800BP};
\node[pop,minimum width=46] (rAy) at (375,1322) {Ayayema\_4700BP};
\node[dot] (r18) at (407,1322) {};
\node[dot] (r19) at (168,1322) {};
\node[pop,minimum width=54] (rLR) at (166,1350) {LosRieles\_5100BP};
\node[dot] (r20) at (194,1348) {};
\node[pop,minimum width=44] (rCo) at (192,1377) {Conchali\_700BP};
\node[dot] (r21) at (242,1348) {};
\node[pop,minimum width=42] (rHC) at (242,1377) {Huilliche-Chiloe};
\node[dot] (r22) at (273,1347) {};
\node[pop,minimum width=44] (rAo) at (285,1377) {Aonikenk\_400BP};
\node[dot] (r23) at (374,1349) {};
\node[pop,minimum width=44] (rYa) at (374,1377) {Yamana\_1500BP};
\draw[edge] (r0) -- node[lab,left]{59} (rMb);
\draw[edge] (r0) -- node[lab,right]{59} (r1);
\draw[edge] (r1) -- node[lab,right]{59} (r2);
\draw[edge] (r2) -- node[lab,right]{102} (rAB);
\draw[edge] (r2) -- node[lab,right]{13} (r3);
\draw[edge] (r3) -- node[lab,right]{2} (r4);
\draw[edge] (r3) -- node[lab,above]{7} (r5);
\draw[edge] (r5) -- node[lab,right]{17} (r6);
\draw[edge] (r6) -- node[lab,right]{3} (rBr);
\draw[edge] (r4) -- node[lab,left]{1} (r7);
\draw[edge] (r4) -- node[lab,above right]{4} (r8);
\draw[edge] (r7) -- node[lab,above]{38} (r10);
\draw[edge] (r7) -- node[lab,right]{1} (r11);
\draw[edge] (r10) -- node[lab,right]{29} (rAS);
\draw[edge] (r11) -- node[lab,left]{0} (r13);
\draw[edge] (r11) -- node[lab,right]{4} (r12);
\draw[edge] (r13) -- node[lab,left]{2} (rMa);
\draw[edge] (r12) -- node[lab,right]{0} (r14);
\draw[edge] (r12) -- node[lab,right]{37} (r15);
\draw[edge] (r8) -- node[lab,right]{0} (r16);
\draw[edge] (r8) -- node[lab,above]{2} (r17);
\draw[edge] (r16) -- node[lab,right]{59} (rLA);
\draw[edge] (r17) -- node[lab,right]{109} (rAy);
\draw[edge] (r17) -- node[lab,right]{0} (r18);
\draw[edge] (r19) -- node[lab,right]{114} (rLR);
\draw[edge] (r20) -- node[lab,right]{59} (rCo);
\draw[edge] (r21) -- node[lab,right]{3} (rHC);
\draw[edge] (r22) -- node[lab,right]{37} (rAo);
\draw[edge] (r23) -- node[lab,right]{7} (rYa);
\draw[mix] (r2) -- node[lab,right]{3\%} (r21);
\draw[mix] (r6) -- node[lab,right]{6\%} (r19);
\draw[mix] (r12) -- node[lab,above]{96\%} (r19);
\draw[mix] (r6) -- node[lab,right]{5\%} (r20);
\draw[mix] (r13) -- node[lab,left]{95\%} (r20);
\draw[mix] (r14) -- node[lab,right]{98\%} (r21);
\draw[mix] (r16) .. controls (290,1310) and (270,1330) .. node[lab,left]{96\%} (r22);
\draw[mix] (r15) -- node[lab,right]{5\%} (r22);
\draw[mix] (r15) .. controls (300,1345) and (340,1345) .. node[lab,above]{98\%} (r23);
\draw[mix] (r18) -- node[lab,right]{38\%} (r23);
\end{scope}

\draw[frame] (487,1401) -- (487,1129) -- (862,1129) -- (862,1401);
\begin{scope}[sz={3.8}{10}]
\node[ttl] (tiH3) at (508,1140) {Mapuche\ \ Huilliche-Chiloe};
\node[ttl] (tiH4) at (586,1140) {Mapuche};
\node[ttl] (tiH5) at (640,1140) {Huilliche-Chiloe};
\node[ttl] (zsH2) at (687,1140) {Zscore=-5.804};
\node[dot] (s0) at (679,1147) {};
\node[pop,minimum width=21,minimum height=12] (sMb) at (672,1170) {Mbuti};
\node[dot] (s1) at (690,1168) {};
\node[dot] (s2) at (720,1192) {};
\node[pop,minimum width=70] (sAB) at (722,1215) {Ancient\_Beringian\_9350BP};
\node[dot] (s3) at (763,1213) {};
\node[dot] (s4) at (763,1240) {};
\node[dot] (s5) at (616,1249) {};
\node[dot] (s6) at (557,1295) {};
\node[pop,minimum width=76] (sBr) at (546,1330) {Brazil\_LapaDoSanto\_9600BP};
\node[dot] (s7) at (658,1258) {};
\node[dot] (s8) at (761,1278) {};
\node[dot] (s9) at (624,1279) {};
\node[pop,minimum width=75] (sAS) at (621,1303) {Argentina\_ArroyoSeco2\_7700BP};
\node[dot] (s10) at (658,1279) {};
\node[dot] (s11) at (655,1322) {};
\node[pop,minimum width=25] (sMa) at (654,1359) {Mapuche};
\node[dot] (s12) at (680,1300) {};
\node[dot] (s13) at (690,1330) {};
\node[dot] (s14) at (714,1330) {};
\node[pop,minimum width=56] (sLA) at (760,1330) {LaArcillosa2\_5800BP};
\node[dot] (s15) at (819,1301) {};
\node[pop,minimum width=48] (sAy) at (819,1330) {Ayayema\_4700BP};
\node[dot] (s16) at (851,1330) {};
\node[dot] (s17) at (597,1330) {};
\node[pop,minimum width=52] (sLR) at (595,1359) {LosRieles\_5100BP};
\node[dot] (s18) at (625,1358) {};
\node[pop,minimum width=48] (sCo) at (626,1387) {Conchali\_700BP};
\node[dot] (s19) at (676,1358) {};
\node[pop,minimum width=48] (sHC) at (676,1387) {Huilliche-Chiloe};
\node[dot] (s20) at (709,1358) {};
\node[pop,minimum width=51] (sAo) at (723,1387) {Aonikenk\_400BP};
\node[dot] (s21) at (795,1360) {};
\node[pop,minimum width=48] (sYa) at (797,1387) {Yamana\_1500BP};
\draw[edge] (s0) -- node[lab,left]{62} (sMb);
\draw[edge] (s0) -- node[lab,right]{62} (s1);
\draw[edge] (s1) -- node[lab,right]{3} (s2);
\draw[edge] (s2) -- node[lab,right]{132} (sAB);
\draw[edge] (s2) to[bend left=12] node[lab,above right]{13} (s3);
\draw[edge] (s3) -- node[lab,right]{2} (s4);
\draw[edge] (s3) .. controls (770,1235) and (680,1245) .. node[lab,above]{0} (s5);
\draw[edge] (s5) -- node[lab,left]{17} (s6);
\draw[edge] (s6) -- node[lab,right]{3} (sBr);
\draw[edge] (s4) -- node[lab,above]{1} (s7);
\draw[edge] (s4) -- node[lab,right]{9} (s8);
\draw[edge] (s7) -- node[lab,above]{38} (s9);
\draw[edge] (s7) -- node[lab,right]{1} (s10);
\draw[edge] (s9) -- node[lab,right]{29} (sAS);
\draw[edge] (s10) -- node[lab,left]{0} (s11);
\draw[edge] (s11) -- node[lab,right]{2} (sMa);
\draw[edge] (s10) -- node[lab,right]{0} (s12);
\draw[edge] (s12) -- node[lab,left]{0} (s13);
\draw[edge] (s12) -- node[lab,right]{37} (s14);
\draw[edge] (s8) -- node[lab,right]{59} (sLA);
\draw[edge] (s8) -- node[lab,above]{2} (s15);
\draw[edge] (s15) -- node[lab,right]{109} (sAy);
\draw[edge] (s15) -- node[lab,right]{0} (s16);
\draw[edge] (s17) -- node[lab,right]{114} (sLR);
\draw[edge] (s18) -- node[lab,right]{59} (sCo);
\draw[edge] (s19) -- node[lab,right]{3} (sHC);
\draw[edge] (s20) -- node[lab,right]{37} (sAo);
\draw[edge] (s21) -- node[lab,right]{7} (sYa);
\draw[mix] (s1) .. controls (677,1200) and (676,1300) .. node[lab,right]{5\%} (s19);
\draw[mix] (s6) -- node[lab,right]{6\%} (s17);
\draw[mix] (s11) -- node[lab,above]{96\%} (s17);
\draw[mix] (s6) -- node[lab,right]{5\%} (s18);
\draw[mix] (s9) -- node[lab,left]{95\%} (s18);
\draw[mix] (s13) -- node[lab,right]{97\%} (s19);
\draw[mix] (s14) -- node[lab,right]{96\%} (s20);
\draw[mix] (s8) .. controls (735,1300) and (715,1330) .. node[lab,left]{5\%} (s20);
\draw[mix] (s14) .. controls (730,1355) and (770,1360) .. node[lab,above]{98\%} (s21);
\draw[mix] (s16) -- node[lab,right]{38\%} (s21);
\end{scope}
\end{tikzpicture}
\end{document}
